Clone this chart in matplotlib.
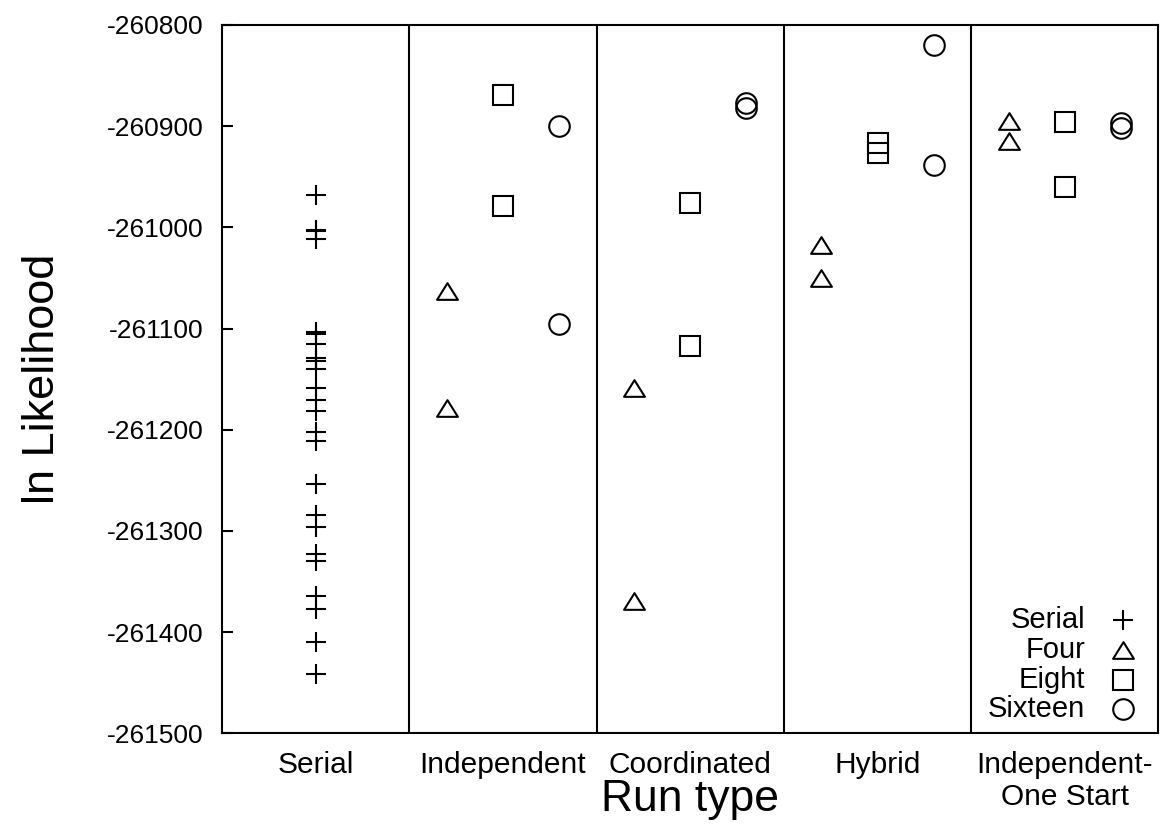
import matplotlib
matplotlib.use("Agg")
import matplotlib.pyplot as plt
from matplotlib.path import Path

plt.rcParams['font.family'] = ['Liberation Sans', 'DejaVu Sans']

# Run types (panels along the x axis)
run_types = ["Serial", "Independent", "Coordinated", "Hybrid", "Independent-\nOne Start"]

# ln likelihood of the serial runs
serial = [-260968, -261003, -261004, -261012, -261103, -261105, -261115,
          -261129, -261132, -261140, -261159, -261171, -261181, -261202,
          -261211, -261254, -261284, -261296, -261323, -261330, -261364,
          -261377, -261410, -261441]

# Parallel runs: one list per run type (Independent, Coordinated, Hybrid, Independent-One Start)
four = [[-261063, -261179], [-261159, -261369], [-261017, -261050], [-260895, -260915]]
eight = [[-260869, -260979], [-260976, -261117], [-260917, -260927], [-260896, -260960]]
sixteen = [[-260900, -261096], [-260877, -260882], [-260820, -260938], [-260897, -260902]]

legend_names = ["Serial", "Four", "Eight", "Sixteen"]
y_ticks = list(range(-261500, -260799, 100))

tri = Path([(-1, -0.8), (1, -0.8), (0, 0.8), (-1, -0.8)],
           [Path.MOVETO, Path.LINETO, Path.LINETO, Path.CLOSEPOLY])

fig = plt.figure(figsize=(11.61, 8.32), dpi=100)
ax = fig.add_axes([0.1912, 0.1186, 0.8066, 0.8514])

mstyle = dict(linestyle='none', markerfacecolor='none', markeredgecolor='black',
              markeredgewidth=1.5, color='black')

ax.plot([0.5] * len(serial), serial, marker='+', markersize=15, **mstyle)

offsets = {"four": -0.3, "eight": 0.0, "sixteen": 0.3}
for i in range(4):
    cx = i + 1.5
    ax.plot([cx + offsets["four"]] * len(four[i]), four[i], marker=tri, markersize=15, **mstyle)
    ax.plot([cx + offsets["eight"]] * len(eight[i]), eight[i], marker='s', markersize=14.2, **mstyle)
    ax.plot([cx + offsets["sixteen"]] * len(sixteen[i]), sixteen[i], marker='o', markersize=14.8, **mstyle)

# panel separators
for b in range(1, len(run_types)):
    ax.axvline(b, color='black', linewidth=1.5)

ax.set_xlim(0, len(run_types))
ax.set_ylim(-261500, -260800)
ax.set_yticks(y_ticks)
ax.set_yticklabels([str(v) for v in y_ticks])
ax.set_xticks([i + 0.5 for i in range(len(run_types))])
ax.set_xticklabels(run_types, linespacing=1.15)

ax.tick_params(axis='y', direction='in', length=8, width=1.5, pad=13.5, labelsize=19)
ax.tick_params(axis='x', length=0, pad=13, labelsize=21.5)
for s in ax.spines.values():
    s.set_linewidth(1.5)

ax.set_xlabel("Run type", fontsize=32)
ax.xaxis.set_label_coords(0.5, -0.110)
ax.xaxis.label.set_va('baseline')
ax.set_ylabel("ln Likelihood", fontsize=32.5)
ax.yaxis.set_label_coords(-0.192, 0.5)
ax.yaxis.label.set_va('center')

# key in the lower-right panel
markers = [('+', 15), (tri, 15), ('s', 14.2), ('o', 14.8)]
row_y = [0.1606, 0.1183, 0.0759, 0.0350]
for name, (m, ms), yy in zip(legend_names, markers, row_y):
    ax.text(0.922, yy, name, transform=ax.transAxes, ha='right', va='center', fontsize=21)
    ax.plot([0.962], [yy], transform=ax.transAxes, marker=m, markersize=ms, clip_on=False, **mstyle)

fig.savefig("out.png", dpi=100)
